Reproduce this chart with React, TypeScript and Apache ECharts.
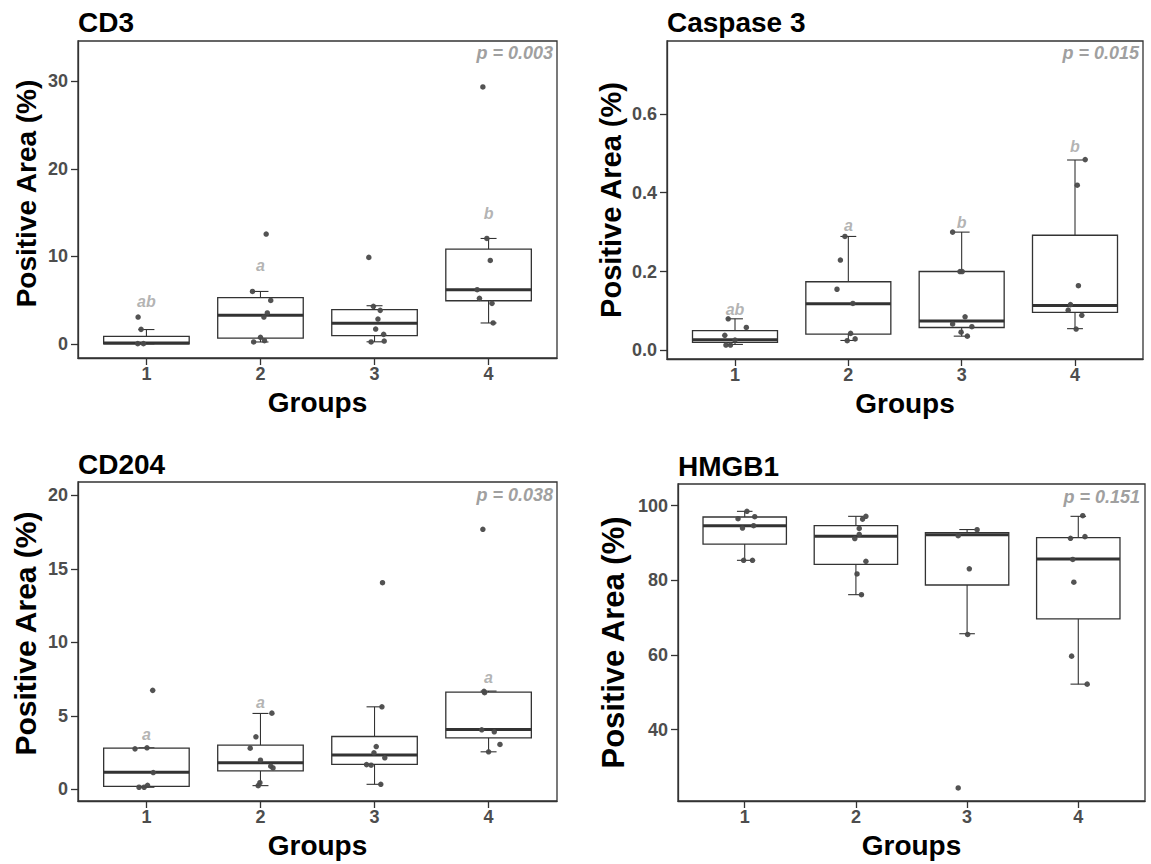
import React, { useEffect, useRef } from "react";
import * as echarts from "echarts";

// ---------- data ----------
const groupTicks = [1, 2, 3, 4];

// box stats: [lowerWhisker, Q1, median, Q3, upperWhisker]
const cd3Boxes = [
  [0.02, 0.03, 0.1, 0.87, 1.65],
  [0.23, 0.68, 3.27, 5.29, 6.0],
  [0.25, 0.95, 2.36, 3.92, 4.37],
  [2.4, 4.94, 6.2, 10.84, 12.05],
];
const cd3Points = [
  [0.927, 3.08], [0.953, 1.67], [0.924, 0.04], [0.974, 0.04],
  [2.05, 12.55], [1.93, 6.0], [2.09, 4.98], [2.06, 3.54], [2.03, 3.08], [2.0, 0.76], [1.94, 0.23], [2.035, 0.38],
  [2.95, 9.89], [2.99, 4.3], [3.05, 3.84], [3.03, 2.85], [3.01, 1.71], [3.08, 1.1], [2.97, 0.23], [3.085, 0.34],
  [3.95, 29.35], [3.985, 12.05], [4.015, 9.54], [3.9, 6.2], [3.92, 5.21], [4.03, 4.64], [4.04, 2.4],
];
const cd3Letters = ["ab", "a", "", "b"];
const cd3LetterY = [4.87, 8.97, 0, 14.9];

const casBoxes = [
  [0.015, 0.02, 0.027, 0.05, 0.08],
  [0.025, 0.041, 0.118, 0.174, 0.289],
  [0.036, 0.058, 0.0745, 0.2, 0.3],
  [0.055, 0.0965, 0.114, 0.292, 0.483],
];
const casPoints = [
  [0.94, 0.08], [1.1, 0.058], [0.91, 0.038], [1.0, 0.026], [0.92, 0.0135], [0.96, 0.0135],
  [1.97, 0.289], [1.93, 0.229], [1.9, 0.155], [2.04, 0.119], [2.02, 0.043], [1.99, 0.0245], [2.06, 0.029],
  [2.92, 0.3], [2.985, 0.2], [3.005, 0.2], [3.03, 0.085], [2.92, 0.067], [3.09, 0.06], [2.995, 0.046], [3.05, 0.036],
  [4.09, 0.484], [4.02, 0.419], [4.03, 0.164], [3.96, 0.116], [3.94, 0.102], [4.06, 0.089], [4.01, 0.054],
];
const casLetters = ["ab", "a", "b", "b"];
const casLetterY = [0.104, 0.318, 0.325, 0.517];

const cd204Boxes = [
  [0.14, 0.2, 1.16, 2.8, 2.82],
  [0.25, 1.25, 1.8, 3.0, 5.16],
  [0.34, 1.7, 2.34, 3.59, 5.61],
  [2.55, 3.5, 4.07, 6.61, 6.68],
];
const cd204Points = [
  [1.055, 6.73], [0.9, 2.75], [1.005, 2.82], [1.06, 1.14], [0.935, 0.14], [0.98, 0.14], [1.01, 0.27],
  [2.1, 5.18], [1.96, 3.57], [1.91, 2.8], [2.0, 1.98], [2.09, 1.57], [2.11, 1.45], [1.995, 0.45], [1.98, 0.25],
  [3.07, 14.05], [3.065, 5.61], [3.015, 2.91], [2.995, 2.48], [3.09, 2.14], [2.93, 1.68], [2.97, 1.64], [3.055, 0.34],
  [3.95, 17.68], [3.965, 6.57], [3.96, 6.66], [3.94, 4.05], [4.05, 3.91], [4.1, 3.05], [4.0, 2.55],
];
const cd204Letters = ["a", "a", "", "a"];
const cd204LetterY = [3.7, 5.9, 0, 7.59];

const hmgBoxes = [
  [85.36, 89.7, 94.64, 96.96, 98.48],
  [76.16, 84.3, 91.8, 94.64, 97.14],
  [65.7, 78.75, 92.2, 92.77, 93.6],
  [52.2, 69.7, 85.7, 91.43, 97.14],
];
const hmgPoints = [
  [1.02, 98.48], [0.94, 96.5], [1.09, 97.05], [0.98, 94.0], [1.08, 94.64], [0.99, 85.36], [1.07, 85.36],
  [2.09, 97.14], [2.06, 96.4], [2.03, 93.9], [2.03, 92.3], [1.99, 91.2], [2.09, 85.1], [2.01, 81.7], [2.05, 76.16],
  [3.09, 93.57], [2.92, 91.96], [3.02, 83.1], [3.005, 65.5], [2.92, 24.4],
  [4.04, 97.3], [3.93, 91.25], [4.06, 91.7], [3.95, 85.6], [3.96, 79.5], [3.94, 59.7], [4.08, 52.2],
];
const hmgLetters = ["", "", "", ""];
const hmgLetterY = [0, 0, 0, 0];

const titles = ["CD3", "Caspase 3", "CD204", "HMGB1"];
const pTexts = ["p = 0.003", "p = 0.015", "p = 0.038", "p = 0.151"];
const yTicks = [
  [0, 10, 20, 30],
  [0, 0.2, 0.4, 0.6],
  [0, 5, 10, 15, 20],
  [40, 60, 80, 100],
];
const yRanges = [
  [-1.6, 34.6],
  [-0.022, 0.785],
  [-0.795, 20.9],
  [20.9, 105.8],
];
const yDecimals = [0, 1, 0, 0];

// ---------- layout ----------
const FONT = "Liberation Sans, Arial, Helvetica, sans-serif";
const layouts = [
  { left: 78, top: 41, width: 479, height: 317, nameGap: 38, nameSize: 28, namePad: 12, titleTop: 8, pTop: 44, pRight: 598 },
  { left: 667, top: 41, width: 476, height: 318, nameGap: 42, nameSize: 29, namePad: 0, titleTop: 8, pTop: 44, pRight: 12 },
  { left: 78, top: 482, width: 479, height: 319, nameGap: 38, nameSize: 30, namePad: 16, titleTop: 450, pTop: 486, pRight: 598 },
  { left: 678, top: 484, width: 467, height: 317, nameGap: 49, nameSize: 31, namePad: 0, titleTop: 452, pTop: 488, pRight: 11 },
];

const panels = [
  { boxes: cd3Boxes, points: cd3Points, letters: cd3Letters, letterY: cd3LetterY },
  { boxes: casBoxes, points: casPoints, letters: casLetters, letterY: casLetterY },
  { boxes: cd204Boxes, points: cd204Points, letters: cd204Letters, letterY: cd204LetterY },
  { boxes: hmgBoxes, points: hmgPoints, letters: hmgLetters, letterY: hmgLetterY },
];

const renderBox = (params: any, api: any) => {
  const x = api.value(0);
  const lo = api.coord([x, api.value(1)]);
  const q1 = api.coord([x, api.value(2)]);
  const md = api.coord([x, api.value(3)]);
  const q3 = api.coord([x, api.value(4)]);
  const hi = api.coord([x, api.value(5)]);
  const half = api.size([0.375, 0])[0];
  const cap = api.size([0.07, 0])[0];
  const cx = md[0];
  const ls = { stroke: "#333333", lineWidth: 1.1 };
  return {
    type: "group",
    children: [
      { type: "line", shape: { x1: cx, y1: q3[1], x2: cx, y2: hi[1] }, style: ls },
      { type: "line", shape: { x1: cx, y1: q1[1], x2: cx, y2: lo[1] }, style: ls },
      { type: "line", shape: { x1: cx - cap, y1: hi[1], x2: cx + cap, y2: hi[1] }, style: ls },
      { type: "line", shape: { x1: cx - cap, y1: lo[1], x2: cx + cap, y2: lo[1] }, style: ls },
      {
        type: "rect",
        shape: { x: cx - half, y: q3[1], width: 2 * half, height: q1[1] - q3[1] },
        style: { fill: "#ffffff", stroke: "#333333", lineWidth: 1.3 },
      },
      {
        type: "line",
        shape: { x1: cx - half, y1: md[1], x2: cx + half, y2: md[1] },
        style: { stroke: "#333333", lineWidth: 3 },
      },
    ],
  };
};

function buildOption() {
  const grid: any[] = [];
  const xAxis: any[] = [];
  const yAxis: any[] = [];
  const series: any[] = [];
  const title: any[] = [];

  panels.forEach((p, i) => {
    const L = layouts[i];
    grid.push({
      left: L.left,
      top: L.top,
      width: L.width,
      height: L.height,
      show: true,
      borderColor: "#333333",
      borderWidth: 1.3,
      backgroundColor: "transparent",
    });
    xAxis.push({
      type: "value",
      gridIndex: i,
      min: 0.4,
      max: 4.6,
      name: "Groups",
      nameLocation: "middle",
      nameGap: 30,
      nameTextStyle: { fontFamily: FONT, fontSize: 28, fontWeight: "bold", color: "#000000", verticalAlign: "top" },
      splitLine: { show: false },
      axisLine: { show: true, onZero: false, lineStyle: { color: "#333333", width: 1.3 } },
      axisTick: { show: true, length: 7, lineStyle: { color: "#333333", width: 1.3 }, customValues: groupTicks },
      axisLabel: {
        customValues: groupTicks,
        margin: 7,
        fontFamily: FONT,
        fontSize: 18,
        fontWeight: "bold",
        color: "#4D4D4D",
      },
    });
    const dec = yDecimals[i];
    yAxis.push({
      type: "value",
      gridIndex: i,
      min: yRanges[i][0],
      max: yRanges[i][1],
      name: "Positive Area (%)",
      nameLocation: "middle",
      nameGap: L.nameGap,
      nameTextStyle: {
        fontFamily: FONT,
        fontSize: L.nameSize,
        fontWeight: "bold",
        color: "#000000",
        padding: [0, 0, 0, L.namePad],
      },
      splitLine: { show: false },
      axisLine: { show: true, onZero: false, lineStyle: { color: "#333333", width: 1.3 } },
      axisTick: { show: true, length: 7, lineStyle: { color: "#333333", width: 1.3 }, customValues: yTicks[i] },
      axisLabel: {
        customValues: yTicks[i],
        margin: 10,
        fontFamily: FONT,
        fontSize: 18,
        fontWeight: "bold",
        color: "#4D4D4D",
        formatter: (v: number) => v.toFixed(dec),
      },
    });
    series.push({
      type: "custom",
      xAxisIndex: i,
      yAxisIndex: i,
      renderItem: renderBox,
      dimensions: ["x", "lo", "q1", "med", "q3", "hi"],
      encode: { x: 0, y: [1, 2, 3, 4, 5] },
      data: p.boxes.map((b, k) => [groupTicks[k], ...b]),
      z: 2,
    });
    series.push({
      type: "scatter",
      xAxisIndex: i,
      yAxisIndex: i,
      symbolSize: 5.5,
      itemStyle: { color: "#4A4A4A", opacity: 0.95 },
      data: p.points,
      z: 3,
    });
    const letterData = p.letters
      .map((t, k) => ({ name: t, value: [groupTicks[k], p.letterY[k]] }))
      .filter((d) => d.name !== "");
    series.push({
      type: "scatter",
      xAxisIndex: i,
      yAxisIndex: i,
      symbolSize: 0.1,
      itemStyle: { color: "transparent" },
      label: {
        show: true,
        position: "inside",
        formatter: "{b}",
        fontFamily: FONT,
        fontSize: 16,
        fontStyle: "italic",
        fontWeight: "bold",
        color: "#A0A0A0",
      },
      data: letterData,
      z: 4,
    });
    title.push({
      text: titles[i],
      left: L.left,
      top: L.titleTop,
      padding: 0,
      textStyle: { fontFamily: FONT, fontSize: 28, fontWeight: "bold", color: "#000000" },
    });
    title.push({
      text: pTexts[i],
      right: L.pRight,
      top: L.pTop,
      padding: 0,
      textStyle: { fontFamily: FONT, fontSize: 18, fontWeight: "bold", fontStyle: "italic", color: "#A0A0A0" },
    });
  });

  return {
    animation: false,
    backgroundColor: "#ffffff",
    title,
    grid,
    xAxis,
    yAxis,
    series,
  };
}

export default function App() {
  const ref = useRef<HTMLDivElement>(null);
  useEffect(() => {
    if (!ref.current) return;
    const chart = echarts.init(ref.current, undefined, { renderer: "svg" });
    chart.setOption(buildOption() as any);
    return () => chart.dispose();
  }, []);
  return (
    <div
      ref={ref}
      style={{ position: "fixed", left: 0, top: 0, width: 1151, height: 864, background: "#fff" }}
    />
  );
}
